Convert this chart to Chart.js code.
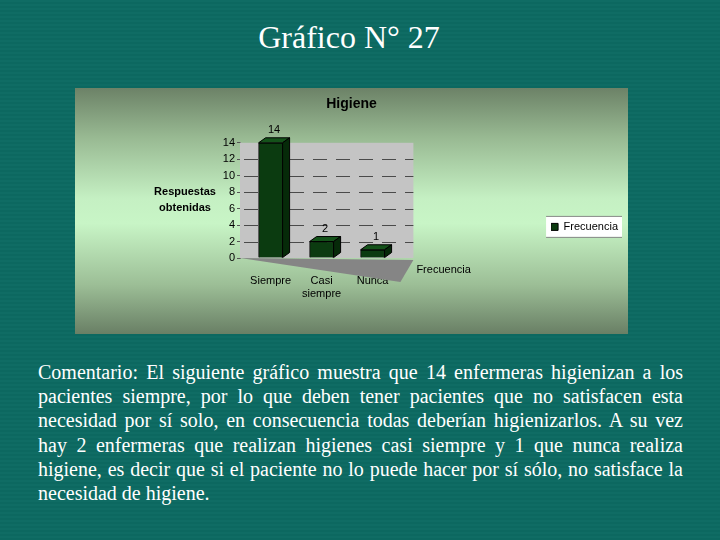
<!DOCTYPE html>
<html lang="es">
<head>
<meta charset="utf-8">
<title>Gráfico N° 27</title>
<script src="https://cdn.jsdelivr.net/npm/chart.js@4.4.1/dist/chart.umd.min.js"></script>
<style>
  html, body { margin: 0; padding: 0; }
  body {
    width: 720px; height: 540px; overflow: hidden; position: relative;
    background: repeating-linear-gradient(#0f6c64 0 2px, #0c6860 2px 4px);
    font-family: "Liberation Serif", "Times New Roman", serif; color: #fff;
  }
  h1 {
    position: absolute; left: 0; top: 19px; width: 698px; margin: 0;
    text-align: center; font-weight: normal; font-size: 32px; line-height: 36px;
  }
  #caja {
    position: absolute; left: 75px; top: 88px; width: 553px; height: 246px;
    background: linear-gradient(to bottom, #6c8267 0%, #98b992 20%, #c5f0c3 45%, #c8f5c6 55%, #9cbe96 80%, #697f65 100%);
  }
  #comentario {
    position: absolute; left: 38px; top: 360px; width: 645px;
    font-size: 20px; line-height: 24.2px;
  }
  #comentario div { white-space: nowrap; text-align: justify; text-align-last: justify; }
  #comentario div.fin { text-align-last: left; }
</style>
</head>
<body>
<h1>Gráfico N° 27</h1>
<div id="caja"><canvas id="grafico" width="553" height="246"></canvas></div>
<div id="comentario">
  <div>Comentario: El siguiente gráfico muestra que 14 enfermeras higienizan a los</div>
  <div>pacientes siempre, por lo que deben tener pacientes que no satisfacen esta</div>
  <div>necesidad por sí solo, en consecuencia todas deberían higienizarlos. A su vez</div>
  <div>hay 2 enfermeras que realizan higienes casi siempre y 1 que nunca realiza</div>
  <div>higiene, es decir que si el paciente no lo puede hacer por sí sólo, no satisface la</div>
  <div class="fin">necesidad de higiene.</div>
</div>
<script>
// datos del gráfico
const categorias = ['Siempre', ['Casi', 'siempre'], 'Nunca'];
const frecuencia = [14, 2, 1];
const serie = 'Frecuencia';
const ticksY = [0, 2, 4, 6, 8, 10, 12, 14];
const tituloY = ['Respuestas', 'obtenidas'];

const fuente = '"Liberation Sans", Arial, sans-serif';
const prof = { dx: 7, dy: 5 }; // profundidad de las barras

// pared gris, piso y lineas punteadas detras de las barras
// caras laterales, etiquetas y titulo del eje encima
const efecto3d = {
  id: 'efecto3d',
  beforeDatasetsDraw(chart) {
    const { ctx, chartArea: a, scales: { x, y } } = chart;
    const derecha = x.getPixelForValue(categorias.length - 1 + 0.8);
    ctx.save();
    ctx.fillStyle = '#c4c4c4';
    ctx.fillRect(a.left, a.top, derecha - a.left, a.bottom - a.top);
    ctx.fillStyle = '#858585';
    ctx.beginPath();
    ctx.moveTo(a.left, a.bottom);
    ctx.lineTo(derecha, a.bottom + 2);
    ctx.lineTo(derecha - 13, a.bottom + 24);
    ctx.closePath();
    ctx.fill();
    ctx.strokeStyle = '#4a4a4a';
    ctx.lineWidth = 1;
    ctx.setLineDash([14, 9]);
    y.ticks.forEach(t => {
      if (t.value <= 0 || t.value >= y.max) return;
      const py = Math.round(y.getPixelForValue(t.value)) + 0.5;
      ctx.beginPath();
      ctx.moveTo(a.left + 4, py);
      ctx.lineTo(derecha, py);
      ctx.stroke();
    });
    ctx.restore();
  },
  afterDatasetsDraw(chart) {
    const { ctx, chartArea: a, scales: { x } } = chart;
    const meta = chart.getDatasetMeta(0);
    const { dx, dy } = prof;
    ctx.save();
    ctx.strokeStyle = '#000';
    ctx.lineWidth = 1;
    meta.data.forEach((bar, i) => {
      const p = bar.getProps(['x', 'y', 'base', 'width'], true);
      const l = p.x - p.width / 2, r = p.x + p.width / 2;
      // cara superior
      ctx.fillStyle = '#14521a';
      ctx.beginPath();
      ctx.moveTo(l, p.y); ctx.lineTo(r, p.y);
      ctx.lineTo(r + dx, p.y - dy); ctx.lineTo(l + dx, p.y - dy);
      ctx.closePath(); ctx.fill(); ctx.stroke();
      // cara lateral
      ctx.fillStyle = '#062a09';
      ctx.beginPath();
      ctx.moveTo(r, p.y); ctx.lineTo(r + dx, p.y - dy);
      ctx.lineTo(r + dx, p.base - dy); ctx.lineTo(r, p.base);
      ctx.closePath(); ctx.fill(); ctx.stroke();
      // valor
      ctx.fillStyle = '#000';
      ctx.font = '11px ' + fuente;
      ctx.textAlign = 'center';
      ctx.textBaseline = 'bottom';
      ctx.fillText(frecuencia[i], p.x + dx / 2, p.y - dy - 2);
    });
    // nombre de la serie (eje de profundidad)
    const derecha = x.getPixelForValue(categorias.length - 1 + 0.8);
    ctx.textAlign = 'left';
    ctx.textBaseline = 'middle';
    ctx.fillText(chart.data.datasets[0].label, derecha + 3, a.bottom + 12);
    // titulo del eje Y en horizontal
    ctx.font = 'bold 11px ' + fuente;
    ctx.textAlign = 'center';
    const cy = (a.top + a.bottom) / 2;
    tituloY.forEach((t, i) => ctx.fillText(t, a.left - 55, cy + (i - 0.5) * 16));
    ctx.restore();
  },
  beforeDraw(chart) {
    // recuadro blanco de la leyenda
    const lg = chart.legend;
    if (!lg || !lg.legendHitBoxes.length) return;
    const hb = lg.legendHitBoxes[0];
    const { ctx } = chart;
    const l = hb.left - 5, r = hb.left + hb.width + 4;
    const t = hb.top + hb.height / 2 - 10, b = hb.top + hb.height / 2 + 10;
    ctx.save();
    ctx.fillStyle = '#ffffff';
    ctx.fillRect(l, t, r - l, b - t);
    ctx.strokeStyle = '#8a8a8a';
    ctx.beginPath();
    ctx.moveTo(l, t - 0.5); ctx.lineTo(r, t - 0.5);
    ctx.moveTo(l, b + 0.5); ctx.lineTo(r, b + 0.5);
    ctx.stroke();
    ctx.restore();
  }
};

new Chart(document.getElementById('grafico'), {
  type: 'bar',
  data: {
    datasets: [{
      label: serie,
      data: frecuencia.map((v, i) => ({ x: i, y: v })),
      backgroundColor: '#0b3b10',
      borderColor: '#000',
      borderWidth: 1,
      barThickness: 24
    }]
  },
  options: {
    responsive: false,
    animation: false,
    layout: { padding: 0 },
    scales: {
      x: {
        type: 'linear',
        offset: false,
        min: -0.6,
        max: 5.5,
        afterBuildTicks: s => { s.ticks = categorias.map((c, i) => ({ value: i })); },
        afterFit: s => { s.height = 76; },
        grid: { display: false },
        border: { display: false },
        ticks: {
          callback: v => categorias[v],
          autoSkip: false, maxRotation: 0, padding: 8,
          color: '#000', font: { family: fuente, size: 11 }
        }
      },
      y: {
        min: 0,
        max: 14,
        afterBuildTicks: s => { s.ticks = ticksY.map(v => ({ value: v })); },
        afterFit: s => { s.width = 165; },
        grid: { drawOnChartArea: false, tickLength: 3, color: '#555' },
        border: { color: '#777' },
        ticks: { padding: 2, color: '#000', font: { family: fuente, size: 11 } }
      }
    },
    plugins: {
      title: {
        display: true, text: 'Higiene', color: '#000',
        font: { family: fuente, size: 14, weight: 'bold' },
        padding: { top: 8, bottom: 30 }
      },
      legend: {
        position: 'right',
        align: 'start',
        // titulo vacio: solo baja la entrada de la leyenda
        title: { display: true, text: '', padding: { top: 0, bottom: 119 } },
        labels: {
          boxWidth: 7, boxHeight: 7, padding: 0, color: '#000',
          font: { family: fuente, size: 11 }
        }
      },
      tooltip: { enabled: false }
    }
  },
  plugins: [efecto3d]
});
</script>
</body>
</html>
